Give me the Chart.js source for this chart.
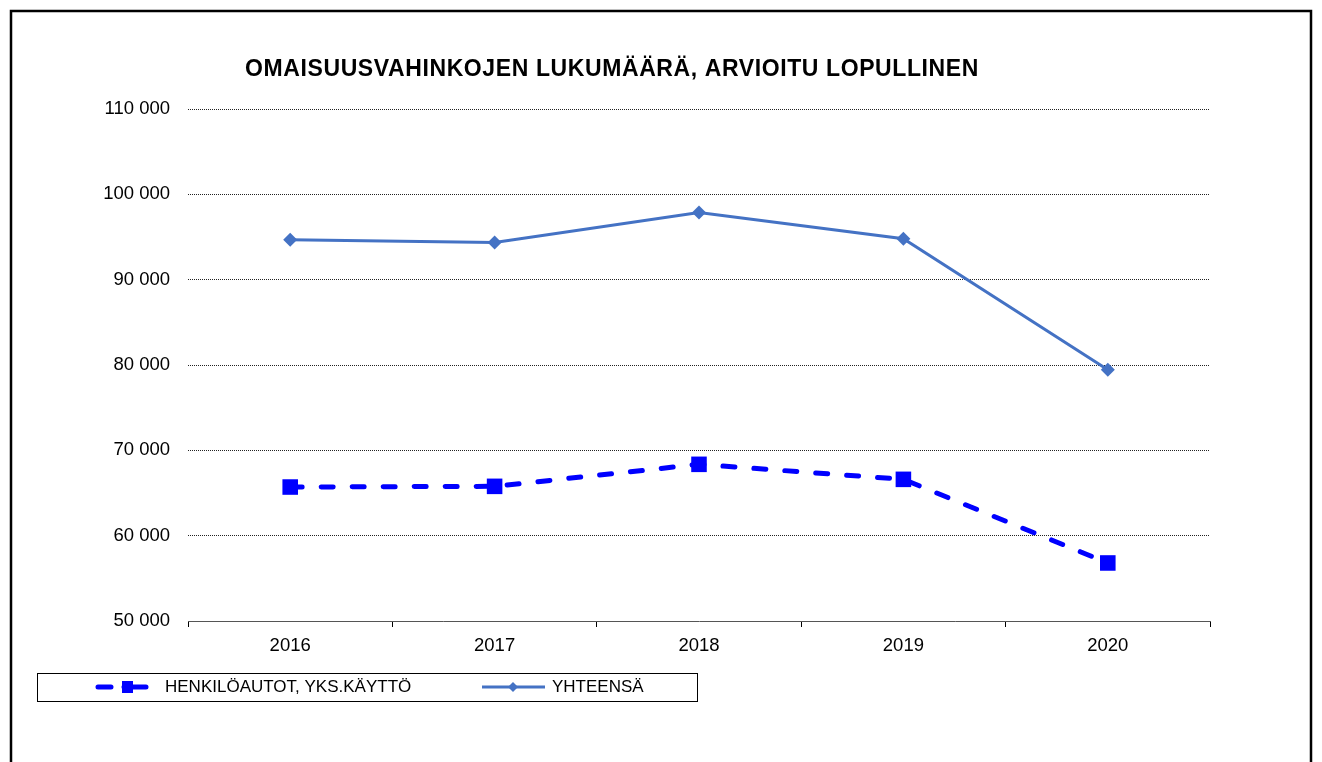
<!DOCTYPE html>
<html>
<head>
<meta charset="utf-8">
<script src="https://cdn.jsdelivr.net/npm/chart.js@4"></script>
<style>
  body { margin: 0; background: #fff; }
  #wrap { width: 1322px; height: 762px; }
</style>
</head>
<body>
<div id="wrap"><canvas id="grafico" width="1322" height="762"></canvas></div>
<script>
const vuodet = ['2016', '2017', '2018', '2019', '2020'];
const henkiloautot = [65700, 65780, 68360, 66600, 56800];
const yhteensa = [94670, 94350, 97880, 94800, 79450];
const yTicks = [50000, 60000, 70000, 80000, 90000, 100000, 110000];

const otsikko = 'OMAISUUSVAHINKOJEN LUKUMÄÄRÄ, ARVIOITU LOPULLINEN';
const sarjaNimet = ['HENKILÖAUTOT, YKS.KÄYTTÖ', 'YHTEENSÄ'];

const fontti = '"Liberation Sans", Arial, sans-serif';
const sininen = '#0000FF';
const harmaaSininen = '#4472C4';

// kehys, otsikko ja selite piirretään itse
const kehys = {
  id: 'kehys',
  afterDraw(chart) {
    const c = chart.ctx;
    c.save();
    // ulkoreunus
    c.strokeStyle = '#000';
    c.lineWidth = 2.5;
    c.strokeRect(11, 11, 1300, 780);

    // otsikko
    c.fillStyle = '#000';
    c.font = 'bold 23px ' + fontti;
    c.letterSpacing = '0.6px';
    c.textAlign = 'center';
    c.textBaseline = 'middle';
    c.fillText(otsikko, 612, 70);
    c.letterSpacing = '0px';

    // selitelaatikko
    c.lineWidth = 1;
    c.strokeRect(37.5, 673.5, 660, 28);
    const y = 687;

    // katkoviiva + neliö
    c.strokeStyle = sininen;
    c.lineWidth = 5;
    c.lineCap = 'round';
    c.beginPath();
    c.moveTo(98, y); c.lineTo(111, y);
    c.moveTo(124, y); c.lineTo(146, y);
    c.stroke();
    c.fillStyle = sininen;
    c.fillRect(122, y - 6, 11, 12);

    // yhtenäinen viiva + vinoneliö
    c.strokeStyle = harmaaSininen;
    c.lineWidth = 3;
    c.lineCap = 'butt';
    c.beginPath();
    c.moveTo(482, y); c.lineTo(545, y);
    c.stroke();
    c.fillStyle = harmaaSininen;
    c.beginPath();
    c.moveTo(513, y - 5); c.lineTo(518, y); c.lineTo(513, y + 5); c.lineTo(508, y);
    c.closePath();
    c.fill();

    c.fillStyle = '#000';
    c.font = '17px ' + fontti;
    c.textAlign = 'left';
    c.fillText(sarjaNimet[0], 165, y);
    c.fillText(sarjaNimet[1], 552, y);
    c.restore();
  }
};

function muotoile(v) {
  return String(v).replace(/\B(?=(\d{3})+(?!\d))/g, ' ');
}

const ctx = document.getElementById('grafico').getContext('2d');
new Chart(ctx, {
  type: 'line',
  data: {
    labels: vuodet,
    datasets: [{
      label: sarjaNimet[0],
      data: henkiloautot,
      borderColor: sininen,
      backgroundColor: sininen,
      borderWidth: 5,
      borderDash: [12, 19],
      borderCapStyle: 'round',
      pointStyle: 'rect',
      pointRadius: 11,
      pointBorderWidth: 0,
      tension: 0
    }, {
      label: sarjaNimet[1],
      data: yhteensa,
      borderColor: harmaaSininen,
      backgroundColor: harmaaSininen,
      borderWidth: 3,
      pointStyle: 'rectRot',
      pointRadius: 7,
      pointBorderWidth: 0,
      tension: 0
    }]
  },
  options: {
    responsive: false,
    animation: false,
    layout: { padding: { left: 0, top: 109, right: 112, bottom: 0 } },
    plugins: {
      legend: { display: false },
      title: { display: false },
      tooltip: { enabled: false }
    },
    scales: {
      x: {
        offset: true,
        grid: { offset: true, drawOnChartArea: false, drawTicks: true, tickLength: 6, color: '#000' },
        border: { display: true, color: '#555', width: 1 },
        ticks: { color: '#000', font: { family: fontti, size: 18.5 }, padding: 8 },
        afterFit(s) { s.height = 141; }
      },
      y: {
        min: yTicks[0],
        max: yTicks[yTicks.length - 1],
        afterBuildTicks(s) { s.ticks = yTicks.map(v => ({ value: v })); },
        grid: { drawTicks: false, color: '#222', lineWidth: 1 },
        border: { display: false, dash: [1, 1] },
        ticks: {
          color: '#000',
          font: { family: fontti, size: 18.5 },
          padding: 18,
          callback: v => muotoile(v)
        },
        afterFit(s) { s.width = 188; }
      }
    }
  },
  plugins: [kehys]
});
</script>
</body>
</html>
